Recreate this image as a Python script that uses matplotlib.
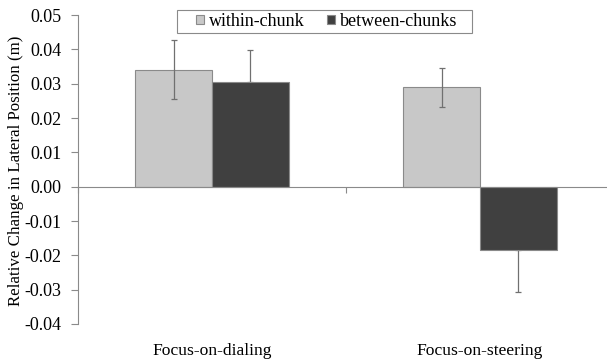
import matplotlib
matplotlib.use("Agg")
import matplotlib.pyplot as plt
import numpy as np
from matplotlib.patches import Rectangle
from matplotlib.transforms import blended_transform_factory

# Data
conditions = ["Focus-on-dialing", "Focus-on-steering"]
series = ["within-chunk", "between-chunks"]
within_chunk = [0.0341, 0.0289]
between_chunks = [0.0306, -0.0184]
within_err = [0.0085, 0.0056]
between_err = [0.0091, 0.0122]
yticks = [-0.04, -0.03, -0.02, -0.01, 0.00, 0.01, 0.02, 0.03, 0.04, 0.05]

plt.rcParams["font.family"] = ["Liberation Serif", "DejaVu Serif"]

W, H = 607, 363
fig = plt.figure(figsize=(W / 100, H / 100), dpi=100)
ax = fig.add_axes([78 / W, 1 - 324 / H, (614 - 78) / W, (324 - 15) / H])

x = np.arange(len(conditions))
bw = 1 / 3.5  # gap width 150% of a bar

within_color = "#c8c8c8"
between_color = "#404040"
edge = "#8a8a8a"

ax.bar(x - bw / 2, within_chunk, bw, color=within_color, edgecolor=edge,
       linewidth=0.8, label=series[0], zorder=2)
ax.bar(x + bw / 2, between_chunks, bw, color=between_color, edgecolor=edge,
       linewidth=0.8, label=series[1], zorder=2)

# within-chunk: symmetric error bars
ax.errorbar(x - bw / 2, within_chunk, yerr=within_err, fmt="none",
            ecolor="#707070", elinewidth=0.9, capsize=2.5, capthick=0.9, zorder=3)
# between-chunks: only the outward half is shown
b = np.array(between_chunks)
be = np.array(between_err)
lower = np.where(b < 0, be, 0)
upper = np.where(b >= 0, be, 0)
ax.errorbar(x + bw / 2, b, yerr=[lower, upper], fmt="none",
            ecolor="#707070", elinewidth=0.9, capsize=2.5, capthick=0.9, zorder=1)

ax.set_xlim(-0.5, len(conditions) - 0.5)
ax.set_ylim(-0.04, 0.05)
ax.set_yticks(yticks)
ax.set_yticklabels([f"{v:.2f}" for v in yticks], fontsize=13)

# horizontal category axis through zero
for s in ["top", "right"]:
    ax.spines[s].set_visible(False)
ax.spines["bottom"].set_position(("data", 0))
ax.spines["bottom"].set_color("#8a8a8a")
ax.spines["left"].set_color("#8a8a8a")
ax.spines["bottom"].set_zorder(4)
ax.set_xticks(np.arange(len(conditions) + 1) - 0.5)
ax.set_xticklabels([])
ax.tick_params(axis="x", direction="out", length=4, color="#8a8a8a")
ax.tick_params(axis="y", direction="out", length=5, color="#8a8a8a", pad=7)

trans = blended_transform_factory(ax.transData, ax.transAxes)
for xi, name in zip(x, conditions):
    ax.text(xi, -0.087, name, transform=trans, ha="center", va="center", fontsize=12.6)

ax.set_ylabel("Relative Change in Lateral Position (m)", fontsize=12.2)
ax.yaxis.set_label_coords((24 - 78) / 536, (324 - 171) / 309)

# legend with a plain rectangular frame
leg = fig.legend(loc="center", bbox_to_anchor=(326.5 / W, 1 - 21.5 / H),
                 ncol=2, fontsize=13, frameon=False,
                 handlelength=0.45, handleheight=0.45,
                 handletextpad=0.3, columnspacing=1.2, borderpad=0.2,
                 borderaxespad=0)
fig.patches.append(Rectangle((177 / W, 1 - 33 / H), 295 / W, 23 / H,
                             transform=fig.transFigure, fill=False,
                             edgecolor="#8a8a8a", linewidth=0.8))

fig.savefig("out.png", dpi=100)
